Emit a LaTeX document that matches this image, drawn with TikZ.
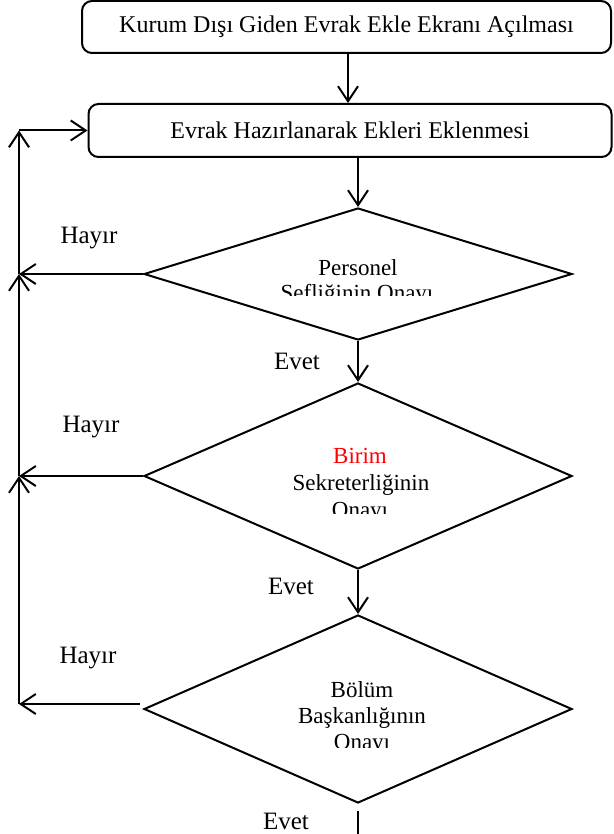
\documentclass[tikz,border=0pt]{standalone}
\usepackage{fontspec}
\setmainfont{Liberation Serif}
\usetikzlibrary{shapes.geometric,arrows.meta}
\begin{document}
\begin{tikzpicture}[x=1pt,y=-1pt,
  line width=2pt,
  arr/.style={-{Straight Barb[length=15pt,width=20pt,line width=2pt]}},
  boxnode/.style={draw,rounded corners=10pt,inner sep=0pt,font=\fontsize{24}{28}\selectfont},
  dia/.style={draw,diamond,inner sep=0pt,minimum width=428pt},
  dtext/.style={anchor=base,inner sep=0pt,font=\fontsize{23}{27}\selectfont},
  lbl/.style={anchor=base,inner sep=0pt,font=\fontsize{25}{29}\selectfont}]
\useasboundingbox (0,0) rectangle (613,834);
\fill[white] (0,0) rectangle (613,834);

\node[boxnode,minimum width=529pt,minimum height=52pt] (b1) at (346.5,27) {Kurum Dışı Giden Evrak Ekle Ekranı Açılması};
\node[boxnode,minimum width=523pt,minimum height=53pt] (b2) at (350,130.5) {Evrak Hazırlanarak Ekleri Eklenmesi};

\node[dia,minimum height=132pt] (d1) at (358,274) {};
\node[dia,minimum height=186pt] (d2) at (358,476) {};
\node[dia,minimum height=188pt] (d3) at (358,709) {};

\coordinate (lx) at (19,132);
\coordinate (bot) at (358,834);

% main flow
\draw[arr] ([xshift=1.5pt]b1.south) -- ([xshift=1.5pt]b1.south |- b2.north);
\draw[arr] (d1.north |- b2.south) -- (d1.north);
\draw[arr] (d1.south) -- (d2.north);
\draw[arr] (d2.south) -- (d3.north);
\draw ([yshift=-7pt]d3.south) -- (bot);

% return loop
\draw[arr] (d1.west) -- (d1.west -| lx);
\draw[arr] (d2.west) -- (d2.west -| lx);
\draw[arr] ([xshift=-3pt,yshift=5pt]d3.west) -- ([yshift=5pt]d3.west -| lx);
\draw[arr] ([yshift=5pt]d3.west -| lx) -- (d2.west -| lx);
\draw[arr] (d2.west -| lx) -- (d1.west -| lx);
\draw[arr] (d1.west -| lx) -- (lx |- b2.west);
\draw[arr] (lx |- b2.west) -- (b2.west);

% diamond texts (clipped as in the original)
\begin{scope}
\clip (150,240) rectangle (570,295.5);
\node[dtext] (t1a) at (358,275) {Personel};
\node[dtext] (t1b) at (357,300) {Şefliğinin Onayı};
\end{scope}
\begin{scope}
\clip (150,420) rectangle (570,513);
\node[dtext,text=red] (t2a) at (360,463) {Birim};
\node[dtext] (t2b) at (361,490) {Sekreterliğinin};
\node[dtext] (t2c) at (360,517) {Onayı};
\end{scope}
\begin{scope}
\clip (150,650) rectangle (570,747);
\node[dtext] (t3a) at (362,697) {Bölüm};
\node[dtext] (t3b) at (362,723) {Başkanlığının};
\node[dtext] (t3c) at (362,749) {Onayı};
\end{scope}

% labels
\node[lbl] (h1) at (89,243) {Hayır};
\node[lbl] (h2) at (91,432) {Hayır};
\node[lbl] (h3) at (88,663) {Hayır};
\node[lbl] (e1) at (297,369) {Evet};
\node[lbl] (e2) at (291,594) {Evet};
\node[lbl] (e3) at (286,829) {Evet};
\end{tikzpicture}
\end{document}
